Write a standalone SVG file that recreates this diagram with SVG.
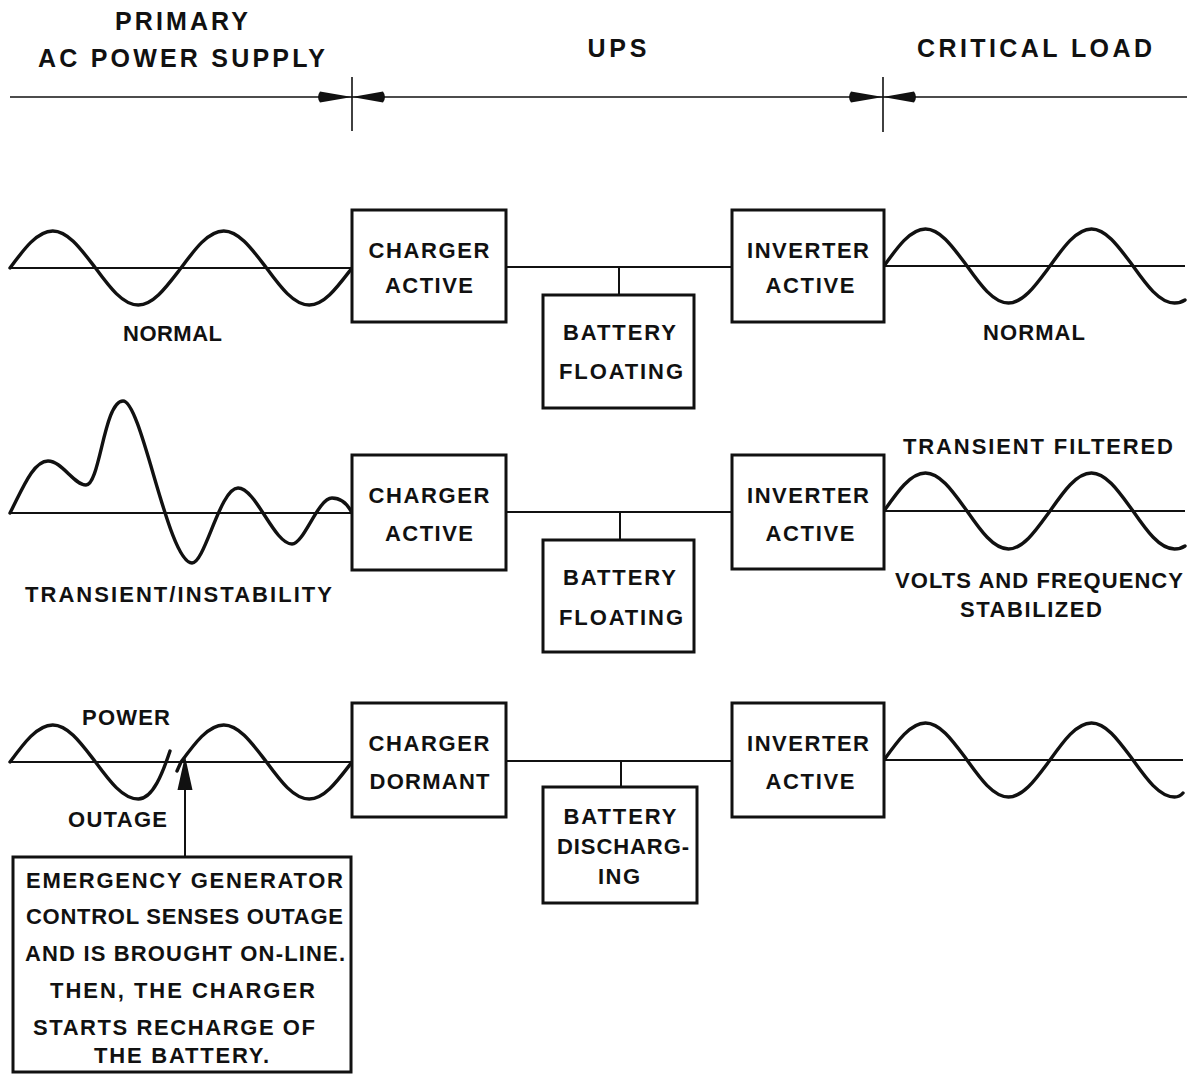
<svg xmlns="http://www.w3.org/2000/svg" width="1191" height="1075" viewBox="0 0 1191 1075">
<style>
  .t { font-family: "Liberation Sans", Arial, Helvetica, sans-serif; font-weight: bold; font-size: 22px; fill: #111; text-anchor: middle; }
  .h { font-size: 25px; }
  .box { fill: #fff; stroke: #111; stroke-width: 3; }
  .wave { fill: none; stroke: #111; stroke-width: 3.4; stroke-linecap: round; stroke-linejoin: round; }
  .base { fill: none; stroke: #111; stroke-width: 2; }
  .hdr { fill: none; stroke: #111; stroke-width: 1.6; }
  .ah { fill: #111; stroke: none; }
</style>
<rect width="1191" height="1075" fill="#fff"/>

<!-- header -->
<g id="header">
  <line class="hdr" x1="10" y1="97" x2="1187" y2="97"/>
  <line class="hdr" x1="352" y1="77" x2="352" y2="131"/>
  <line class="hdr" x1="883" y1="77" x2="883" y2="132"/>
  <path class="ah" d="M352,97 L320,91.5 Q316,97 320,102.5 Z"/>
  <path class="ah" d="M352,97 L383,91.5 Q387,97 383,102.5 Z"/>
  <path class="ah" d="M883,97 L851,91.5 Q847,97 851,102.5 Z"/>
  <path class="ah" d="M883,97 L914,91.5 Q918,97 914,102.5 Z"/>
  <text class="t h" x="181.5" y="30" textLength="133" lengthAdjust="spacing">PRIMARY</text>
  <text class="t h" x="181.5" y="67" textLength="287" lengthAdjust="spacing">AC POWER SUPPLY</text>
  <text class="t h" x="617" y="57" textLength="59" lengthAdjust="spacing">UPS</text>
  <text class="t h" x="1034.5" y="57" textLength="235" lengthAdjust="spacing">CRITICAL LOAD</text>
</g>

<!-- connectors -->
<g id="connectors">
  <line class="base" x1="10" y1="268" x2="352" y2="268"/>
  <line class="base" x1="506" y1="267" x2="732" y2="267"/>
  <line class="base" x1="619" y1="267" x2="619" y2="295"/>
  <line class="base" x1="884" y1="266" x2="1185" y2="266"/>

  <line class="base" x1="10" y1="513" x2="352" y2="513"/>
  <line class="base" x1="506" y1="512" x2="732" y2="512"/>
  <line class="base" x1="620" y1="512" x2="620" y2="540"/>
  <line class="base" x1="884" y1="511" x2="1185" y2="511"/>

  <line class="base" x1="10" y1="762" x2="352" y2="762"/>
  <line class="base" x1="506" y1="761" x2="732" y2="761"/>
  <line class="base" x1="621" y1="761" x2="621" y2="787"/>
  <line class="base" x1="884" y1="760" x2="1183" y2="760"/>

  <line class="base" x1="185" y1="857" x2="185" y2="786"/>
  <path class="ah" d="M185,756 L192.5,790 L177.5,790 Z"/>
</g>

<!-- waveforms -->
<g id="waves">
  <path id="wave-normal-in" class="wave" d="M10,268 c13.94,-18.95 27.28,-37 42.75,-37 c15.47,0 28.81,18.95 42.75,37 c13.94,18.95 27.28,37 42.75,37 c15.47,0 28.81,-18.95 42.75,-37 c13.94,-18.95 27.28,-37 42.75,-37 c15.47,0 28.81,18.95 42.75,37 c13.94,18.95 27.28,37 42.75,37 c15.47,0 28.81,-18.95 42.75,-37"/>
  <path id="wave-normal-out" class="wave" d="M884,266 c13.53,-18.95 26.48,-37 41.5,-37 c15.02,0 27.97,18.95 41.5,37 c13.53,18.95 26.48,37 41.5,37 c15.02,0 27.97,-18.95 41.5,-37 c13.53,-18.95 26.48,-37 41.5,-37 c15.02,0 27.97,18.95 41.5,37 c13.53,18.95 26.48,37 41.5,37 c4,0 7.5,-1 10.5,-3"/>

  <path id="wave-transient-in" class="wave" d="M10,513 C22,490 33,461 48,461 C62,461 74,485 86,485 C100,485 104,401 123,401 C142,401 168,563 192,563 C205,563 220,488 238,488 C256,488 274,544 292,544 C304,544 318,498 332,498 C342,498 348,505 352,513"/>
  <path id="wave-filtered-out" class="wave" d="M884,511 c13.53,-19.47 26.48,-38 41.5,-38 c15.02,0 27.97,19.47 41.5,38 c13.53,19.47 26.48,38 41.5,38 c15.02,0 27.97,-19.47 41.5,-38 c13.53,-19.47 26.48,-38 41.5,-38 c15.02,0 27.97,19.47 41.5,38 c13.53,19.47 26.48,38 41.5,38 c4,0 7.5,-1 10.5,-3"/>

  <path id="wave-outage-in-a" class="wave" d="M10,762 c13.94,-18.95 27.28,-37 42.75,-37 c15.47,0 28.81,18.95 42.75,37 c13.94,18.95 27.28,37 42.75,37 C153,799 163,772 170,751"/>
  <path id="wave-outage-in-b" class="wave" d="M177,771 L181,762 c13.94,-18.95 27.28,-37 42.75,-37 c15.47,0 28.81,18.95 42.75,37 c13.94,18.95 27.28,37 42.75,37 c15.47,0 28.81,-18.95 42.75,-37"/>
  <path id="wave-outage-out" class="wave" d="M884,760 c13.53,-18.95 26.48,-37 41.5,-37 c15.02,0 27.97,18.95 41.5,37 c13.53,18.95 26.48,37 41.5,37 c15.02,0 27.97,-18.95 41.5,-37 c13.53,-18.95 26.48,-37 41.5,-37 c15.02,0 27.97,18.95 41.5,37 c13.53,18.95 26.48,37 41.5,37 c3,0 6,-1 8.5,-4"/>
</g>

<!-- row 1 -->
<g id="charger1">
  <rect class="box" x="352" y="210" width="154" height="112"/>
  <text class="t" x="429" y="258" textLength="121" lengthAdjust="spacing">CHARGER</text>
  <text class="t" x="429" y="293" textLength="88" lengthAdjust="spacing">ACTIVE</text>
</g>
<g id="battery1">
  <rect class="box" x="543" y="295" width="151" height="113"/>
  <text class="t" x="619.5" y="340" textLength="113" lengthAdjust="spacing">BATTERY</text>
  <text class="t" x="621" y="379" textLength="124" lengthAdjust="spacing">FLOATING</text>
</g>
<g id="inverter1">
  <rect class="box" x="732" y="210" width="152" height="112"/>
  <text class="t" x="808" y="258" textLength="122" lengthAdjust="spacing">INVERTER</text>
  <text class="t" x="810" y="293" textLength="89" lengthAdjust="spacing">ACTIVE</text>
</g>
<g id="labels1">
  <text class="t" x="172.5" y="341" textLength="99" lengthAdjust="spacing">NORMAL</text>
  <text class="t" x="1034" y="340" textLength="102" lengthAdjust="spacing">NORMAL</text>
</g>

<!-- row 2 -->
<g id="charger2">
  <rect class="box" x="352" y="455" width="154" height="115"/>
  <text class="t" x="429" y="503" textLength="121" lengthAdjust="spacing">CHARGER</text>
  <text class="t" x="429" y="541" textLength="88" lengthAdjust="spacing">ACTIVE</text>
</g>
<g id="battery2">
  <rect class="box" x="543" y="540" width="151" height="112"/>
  <text class="t" x="619.5" y="585" textLength="113" lengthAdjust="spacing">BATTERY</text>
  <text class="t" x="621" y="625" textLength="124" lengthAdjust="spacing">FLOATING</text>
</g>
<g id="inverter2">
  <rect class="box" x="732" y="455" width="152" height="114"/>
  <text class="t" x="808" y="503" textLength="122" lengthAdjust="spacing">INVERTER</text>
  <text class="t" x="810" y="541" textLength="89" lengthAdjust="spacing">ACTIVE</text>
</g>
<g id="labels2">
  <text class="t" x="178.5" y="602" textLength="307" lengthAdjust="spacing">TRANSIENT/INSTABILITY</text>
  <text class="t" x="1038" y="454" textLength="270" lengthAdjust="spacing">TRANSIENT FILTERED</text>
  <text class="t" x="1039" y="588" textLength="288" lengthAdjust="spacing">VOLTS AND FREQUENCY</text>
  <text class="t" x="1031" y="617" textLength="142" lengthAdjust="spacing">STABILIZED</text>
</g>

<!-- row 3 -->
<g id="charger3">
  <rect class="box" x="352" y="703" width="154" height="114"/>
  <text class="t" x="429" y="751" textLength="121" lengthAdjust="spacing">CHARGER</text>
  <text class="t" x="429.5" y="789" textLength="120" lengthAdjust="spacing">DORMANT</text>
</g>
<g id="battery3">
  <rect class="box" x="543" y="787" width="154" height="116"/>
  <text class="t" x="620" y="824" textLength="113" lengthAdjust="spacing">BATTERY</text>
  <text class="t" x="623" y="854" textLength="132" lengthAdjust="spacing">DISCHARG-</text>
  <text class="t" x="619" y="884" textLength="42" lengthAdjust="spacing">ING</text>
</g>
<g id="inverter3">
  <rect class="box" x="732" y="703" width="152" height="114"/>
  <text class="t" x="808" y="751" textLength="122" lengthAdjust="spacing">INVERTER</text>
  <text class="t" x="810" y="789" textLength="89" lengthAdjust="spacing">ACTIVE</text>
</g>
<g id="labels3">
  <text class="t" x="126" y="725" textLength="88" lengthAdjust="spacing">POWER</text>
  <text class="t" x="117.5" y="827" textLength="99" lengthAdjust="spacing">OUTAGE</text>
</g>

<g id="note">
  <rect class="box" x="13" y="857" width="338" height="215"/>
  <text class="t" x="184.5" y="888" textLength="317" lengthAdjust="spacing">EMERGENCY GENERATOR</text>
  <text class="t" x="184.5" y="924" textLength="317" lengthAdjust="spacing">CONTROL SENSES OUTAGE</text>
  <text class="t" x="185" y="961" textLength="320" lengthAdjust="spacing">AND IS BROUGHT ON-LINE.</text>
  <text class="t" x="182.5" y="998" textLength="265" lengthAdjust="spacing">THEN, THE CHARGER</text>
  <text class="t" x="174" y="1035" textLength="282" lengthAdjust="spacing">STARTS RECHARGE OF</text>
  <text class="t" x="181.5" y="1063" textLength="175" lengthAdjust="spacing">THE BATTERY.</text>
</g>
</svg>
